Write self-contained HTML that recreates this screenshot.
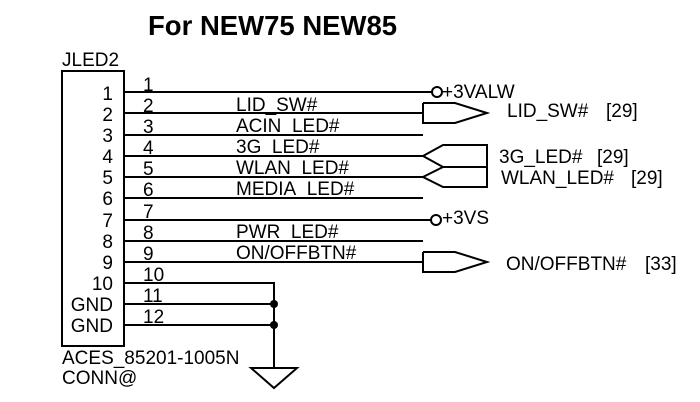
<!DOCTYPE html>
<html><head><style>body{margin:0;background:#fff}svg{display:block}</style></head><body>
<svg width="700" height="402" viewBox="0 0 700 402" font-family="Liberation Sans, Arial, sans-serif" fill="#000">
<text x="148" y="35" font-size="27.5" font-weight="bold">For NEW75 NEW85</text>
<text x="62" y="66" font-size="19">JLED2</text>
<rect x="62" y="71" width="62" height="275" fill="none" stroke="#000" stroke-width="2"/>
<g font-size="19" text-anchor="end">
<text x="113" y="100">1</text><text x="113" y="121">2</text><text x="113" y="142">3</text><text x="113" y="163">4</text><text x="113" y="184">5</text><text x="113" y="205">6</text><text x="113" y="227">7</text><text x="113" y="248">8</text><text x="113" y="269">9</text><text x="113" y="290">10</text><text x="113" y="311">GND</text><text x="113" y="332">GND</text>
</g>
<g font-size="19">
<text x="143" y="91">1</text><text x="143" y="112">2</text><text x="143" y="133">3</text><text x="143" y="154">4</text><text x="143" y="175">5</text><text x="143" y="196">6</text><text x="143" y="218">7</text><text x="143" y="239">8</text><text x="143" y="260">9</text><text x="143" y="281">10</text><text x="143" y="302">11</text><text x="143" y="323">12</text>
<text x="236" y="111">LID_SW#</text><text x="236" y="132">ACIN_LED#</text><text x="236" y="153">3G_LED#</text><text x="236" y="174">WLAN_LED#</text><text x="236" y="195">MEDIA_LED#</text><text x="236" y="238">PWR_LED#</text><text x="236" y="259">ON/OFFBTN#</text>
<text x="442" y="98">+3VALW</text><text x="442" y="224">+3VS</text>
<text x="507" y="117">LID_SW#</text><text x="606" y="117">[29]</text>
<text x="499" y="163">3G_LED#</text><text x="597" y="163">[29]</text>
<text x="501" y="184">WLAN_LED#</text><text x="631" y="184">[29]</text>
<text x="506" y="270">ON/OFFBTN#</text><text x="645" y="270">[33]</text>
<text x="62" y="364">ACES_85201-1005N</text><text x="62" y="384">CONN@</text>
</g>
<g stroke="#000" stroke-width="2" fill="none">
<line x1="124" y1="92" x2="432" y2="92"/>
<circle cx="437" cy="92" r="5"/>
<line x1="124" y1="113" x2="423" y2="113"/>
<polyline points="423,103 455,103 487,113 455,123 423,123 423,103"/>
<line x1="124" y1="135" x2="423" y2="135"/>
<line x1="124" y1="156" x2="423" y2="156"/>
<line x1="124" y1="177" x2="423" y2="177"/>
<polyline points="423,156 443,145 487,145 487,187 443,187 423,177 443,167 487,167"/>
<line x1="443" y1="167" x2="423" y2="156"/>
<line x1="124" y1="198" x2="423" y2="198"/>
<line x1="124" y1="220" x2="431" y2="220"/>
<circle cx="436" cy="220" r="5"/>
<line x1="124" y1="241" x2="423" y2="241"/>
<line x1="124" y1="262" x2="423" y2="262"/>
<polyline points="423,252 455,252 487,262 455,272 423,272 423,252"/>
<polyline points="124,283 274,283 274,368"/>
<line x1="124" y1="304" x2="274" y2="304"/>
<line x1="124" y1="325" x2="274" y2="325"/>
<polygon points="251,368 297,368 274,388"/>
</g>
<circle cx="274" cy="304" r="4"/><circle cx="274" cy="325" r="4"/>
</svg>
</body></html>
